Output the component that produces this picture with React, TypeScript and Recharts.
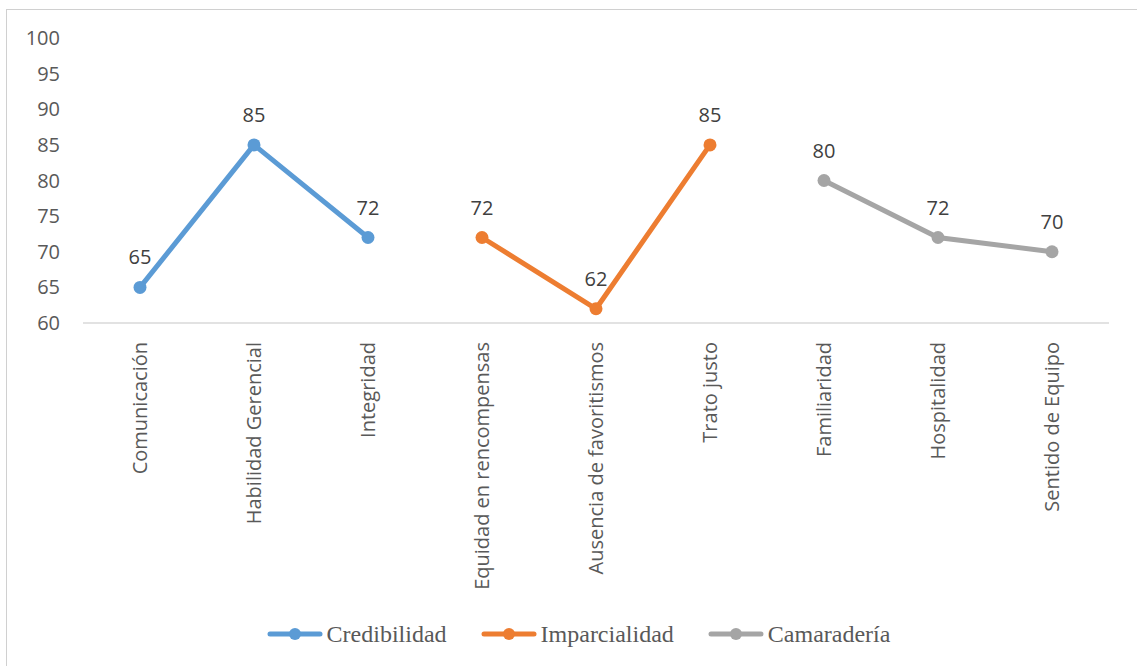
import { LabelList, Legend, Line, LineChart, XAxis, YAxis } from "recharts";

const categories = [
  "Comunicación",
  "Habilidad Gerencial",
  "Integridad",
  "Equidad en rencompensas",
  "Ausencia de favoritismos",
  "Trato justo",
  "Familiaridad",
  "Hospitalidad",
  "Sentido de Equipo"
];

const credibilidad = [65, 85, 72, null, null, null, null, null, null];
const imparcialidad = [null, null, null, 72, 62, 85, null, null, null];
const camaraderia = [null, null, null, null, null, null, 80, 72, 70];

const yTicks = [60, 65, 70, 75, 80, 85, 90, 95, 100];

const series = [
  { key: "credibilidad", name: "Credibilidad", color: "#5B9BD5" },
  { key: "imparcialidad", name: "Imparcialidad", color: "#ED7D31" },
  { key: "camaraderia", name: "Camaradería", color: "#A5A5A5" }
];

const data = categories.map((name, i) => ({
  name,
  credibilidad: credibilidad[i],
  imparcialidad: imparcialidad[i],
  camaraderia: camaraderia[i]
}));

const SANS = "'Open Sans', sans-serif";

function RotatedTick({ x, y, payload }: any) {
  return (
    <g transform={`translate(${x},${y + 17})`}>
      <text
        x={0}
        y={0}
        dy="0.35em"
        textAnchor="end"
        transform="rotate(-90)"
        fontFamily={SANS}
        fontSize={20}
        fill="#595959"
      >
        {payload.value}
      </text>
    </g>
  );
}

function LegendBox() {
  return (
    <div
      style={{
        height: 30,
        display: "flex",
        alignItems: "center",
        justifyContent: "center",
        gap: 34,
        paddingLeft: 40,
        fontFamily: "'Liberation Serif', 'Times New Roman', serif",
        fontSize: 24,
        color: "#595959"
      }}
    >
      {series.map((s) => (
        <div key={s.key} style={{ display: "flex", alignItems: "center" }}>
          <svg width={56} height={14} style={{ marginRight: 4 }}>
            <line x1={3} y1={7} x2={53} y2={7} stroke={s.color} strokeWidth={5} strokeLinecap="round" />
            <circle cx={28} cy={7} r={6} fill={s.color} />
          </svg>
          <span>{s.name}</span>
        </div>
      ))}
    </div>
  );
}

export default function App() {
  return (
    <div
      style={{
        position: "absolute",
        left: 6,
        top: 9,
        width: 1130,
        height: 660,
        borderTop: "1px solid #d0d0d0",
        borderLeft: "1px solid #d0d0d0",
        background: "#fff"
      }}
    >
      <div style={{ position: "absolute", left: 1, top: 1 }}>
        <LineChart width={1122} height={650} data={data} margin={{ top: 27, right: 21, left: 0, bottom: 12 }}>
          <XAxis
            dataKey="name"
            interval={0}
            height={296}
            padding={{ left: 57, right: 57 }}
            axisLine={{ stroke: "#d9d9d9", strokeWidth: 1.5 }}
            tickLine={false}
            tickSize={0}
            tick={<RotatedTick />}
          />
          <YAxis
            domain={[60, 100]}
            ticks={yTicks}
            width={75}
            axisLine={false}
            tickLine={false}
            tickSize={0}
            tickMargin={23}
            tick={{ fontFamily: SANS, fontSize: 20, fill: "#595959" }}
          />
          <Legend verticalAlign="bottom" content={() => <LegendBox />} />
          {series.map((s) => (
            <Line
              key={s.key}
              dataKey={s.key}
              name={s.name}
              stroke={s.color}
              strokeWidth={5}
              dot={{ r: 6.5, fill: s.color, stroke: s.color, strokeWidth: 0 }}
              activeDot={false}
              connectNulls={false}
              isAnimationActive={false}
            >
              <LabelList
                dataKey={s.key}
                position="top"
                offset={23}
                fontFamily={SANS}
                fontSize={20}
                fill="#404040"
              />
            </Line>
          ))}
        </LineChart>
      </div>
    </div>
  );
}
